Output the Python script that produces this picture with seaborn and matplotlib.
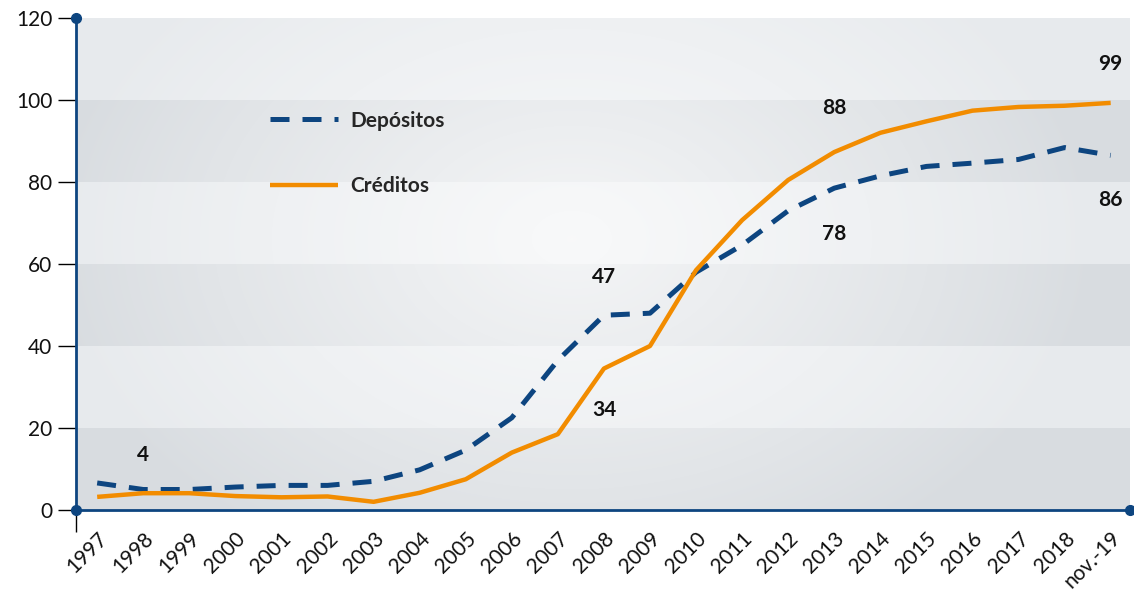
import numpy as np
import pandas as pd
import matplotlib
matplotlib.use("Agg")
import matplotlib.pyplot as plt
import seaborn as sns

# =========================
# Data
# =========================
years = ['1997', '1998', '1999', '2000', '2001', '2002', '2003', '2004',
         '2005', '2006', '2007', '2008', '2009', '2010', '2011', '2012',
         '2013', '2014', '2015', '2016', '2017', '2018', 'nov.-19']

depositos = [6.6, 5.0, 5.0, 5.6, 6.0, 6.0, 7.0, 9.8, 14.6, 22.5, 36.5,
             47.5, 48.0, 58.0, 64.6, 73.0, 78.5, 81.5, 83.8, 84.6, 85.5,
             88.4, 86.5]

creditos = [3.2, 4.1, 4.1, 3.4, 3.1, 3.3, 2.0, 4.2, 7.5, 14.0, 18.5,
            34.5, 40.0, 58.5, 70.7, 80.5, 87.3, 92.0, 94.8, 97.4, 98.3,
            98.6, 99.3]

# value labels: (index, y position, text)
label_idx = [1, 11, 11, 16, 16, 22, 22]
label_y = [13.4, 56.8, 24.4, 98.0, 67.3, 108.8, 75.6]
label_txt = ['4', '47', '34', '88', '78', '99', '86']

df = pd.DataFrame({'x': np.arange(len(years)),
                   'Depósitos': depositos,
                   'Créditos': creditos})

# =========================
# Style
# =========================
sns.set_theme(style='white')
plt.rcParams['font.family'] = ['Lato', 'DejaVu Sans']

navy = '#0d4580'
orange = '#f28c00'

fig = plt.figure(figsize=(11.34, 5.94), dpi=100)
ax = fig.add_axes([0.067, 0.1414, 0.9295, 0.8283])

xmin, xmax = -0.46, 22.42
ax.set_xlim(xmin, xmax)
ax.set_ylim(0, 120)

# horizontal bands
band_dark = '#d8dce0'
band_light = '#e7eaed'
for i, lo in enumerate(range(0, 120, 20)):
    ax.axhspan(lo, lo + 20, color=band_dark if i % 2 == 0 else band_light,
               lw=0, zorder=0)

# radial white glow
gy, gx = np.mgrid[0:1:300j, 0:1:600j]
r = np.sqrt(((gx - 0.47) / 0.5) ** 2 + ((gy - 0.55) / 0.75) ** 2)
glow = np.zeros((300, 600, 4))
glow[..., :3] = 1.0
glow[..., 3] = np.clip(1 - r, 0, 1) ** 0.9 * 0.72
ax.imshow(glow, extent=(xmin, xmax, 0, 120), origin='lower',
          aspect='auto', zorder=1, interpolation='bilinear')

# =========================
# Lines
# =========================
sns.lineplot(data=df, x='x', y='Depósitos', ax=ax, color=navy, lw=3.6,
             zorder=3, label='Depósitos')
ax.lines[-1].set_dashes((3.8, 2.6))
ax.lines[-1].set_dash_capstyle('butt')
ax.lines[-1].set_dash_joinstyle('round')
sns.lineplot(data=df, x='x', y='Créditos', ax=ax, color=orange, lw=3.2,
             zorder=4, label='Créditos')
ax.lines[-1].set_solid_capstyle('butt')
ax.lines[-1].set_solid_joinstyle('round')

for i, yv, t in zip(label_idx, label_y, label_txt):
    ax.text(i, yv, t, ha='center', va='center', fontsize=15,
            fontweight='bold', color='#111111', zorder=5)

leg = ax.legend(loc='upper left', bbox_to_anchor=(0.166, 0.85),
                frameon=False, handlelength=3.3, handletextpad=0.55,
                labelspacing=2.2, prop={'size': 15, 'weight': 'bold'})

# =========================
# Axes decoration
# =========================
for s in ['top', 'right']:
    ax.spines[s].set_visible(False)
for s in ['left', 'bottom']:
    ax.spines[s].set_color(navy)
    ax.spines[s].set_linewidth(2)
    ax.spines[s].set_zorder(6)

ax.plot([0, 0, 1], [1, 0, 0], 'o', color=navy, ms=7,
        transform=ax.transAxes, clip_on=False, zorder=7, ls='none')

ax.set_yticks(range(0, 121, 20))
ax.set_xticks(df['x'])
ax.set_xticklabels(years, rotation=45, ha='right', rotation_mode='anchor')
ax.tick_params(axis='y', length=13, width=1, color='black', direction='out',
               pad=4, labelsize=15, labelcolor='#111111', left=True)
ax.tick_params(axis='x', which='major', length=0, pad=13, labelsize=15,
               labelcolor='#111111')
ax.set_xticks([xmin], minor=True)
ax.tick_params(axis='x', which='minor', length=16, width=1, color='black',
               direction='out', bottom=True)

ax.set_xlabel('')
ax.set_ylabel('')

plt.savefig('out.png', dpi=100)
